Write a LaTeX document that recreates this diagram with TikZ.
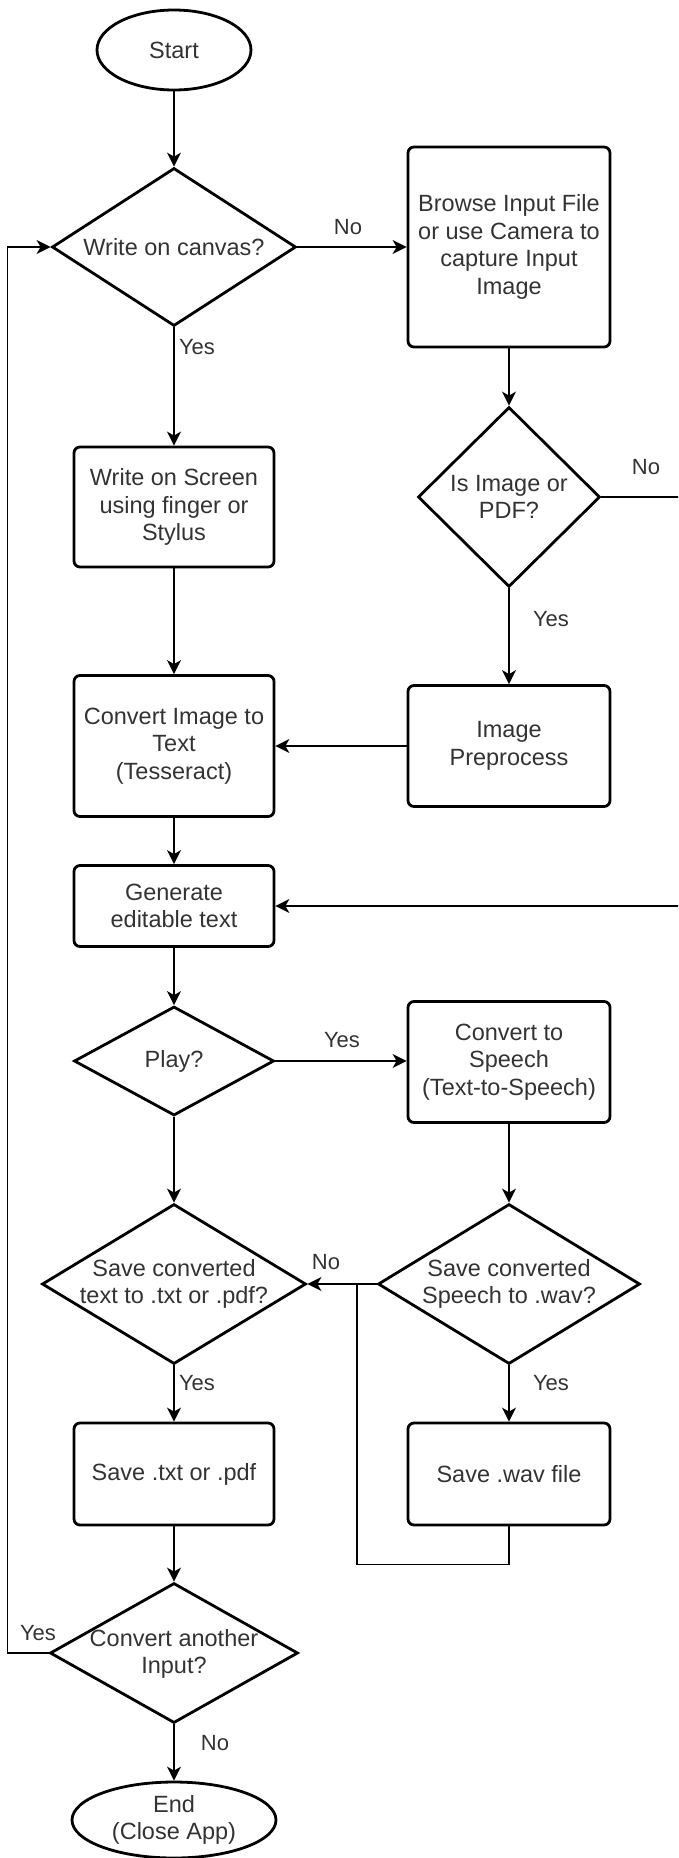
\documentclass[tikz,border=0pt]{standalone}
\usepackage{fontspec}
\setmainfont{Liberation Sans}
\usetikzlibrary{shapes.geometric,arrows.meta,calc}
\definecolor{txt}{HTML}{333333}
\begin{document}
\begin{tikzpicture}[x=1pt,y=-1pt,
  shapeline/.style={draw=black, line width=2.8pt},
  box/.style={shapeline, rectangle, rounded corners=6pt, inner sep=0pt, align=center, text=txt, font=\fontsize{23.5}{27.5}\selectfont},
  dia/.style={shapeline, diamond, inner sep=0pt},
  term/.style={shapeline, ellipse, inner sep=0pt, align=center, text=txt, font=\fontsize{23.5}{27.5}\selectfont},
  dtext/.style={align=center, text=txt, font=\fontsize{23.5}{27.5}\selectfont, inner sep=0pt},
  lbl/.style={text=txt, font=\fontsize{22}{26}\selectfont, inner sep=0pt},
  conn/.style={draw=black, line width=1.6pt, -{Stealth[length=14pt,width=14pt,inset=4pt]}},
  plainline/.style={draw=black, line width=1.6pt}
]
\useasboundingbox (0,0) rectangle (678,1858);
\clip (0,0) rectangle (678,1858);

% nodes
\node[term, minimum width=154pt, minimum height=80pt] (start) at (174,50) {Start};

\node[dia, minimum width=244pt, minimum height=158pt] (wc) at (174,247) {};
\node[dtext] (wct) at (174,247) {Write on canvas?};

\node[box, minimum width=202pt, minimum height=200pt] (browse) at (509,247) {Browse Input File\\or use Camera to\\capture Input\\Image};

\node[dia, minimum width=182pt, minimum height=180pt] (isimg) at (509,497) {};
\node[dtext] (isimgt) at (509,497) {Is Image or\\PDF?};

\node[box, minimum width=200pt, minimum height=120pt] (wos) at (174,507) {Write on Screen\\using finger or\\Stylus};

\node[box, minimum width=200pt, minimum height=141pt] (cit) at (174,746) {Convert Image to\\Text\\(Tesseract)};
\node[box, minimum width=202pt, minimum height=121pt] (prep) at (509,746) {Image\\Preprocess};

\node[box, minimum width=200pt, minimum height=81pt] (gen) at (174,906) {Generate\\editable text};

\node[dia, minimum width=200pt, minimum height=109pt] (play) at (174,1061) {};
\node[dtext] (playt) at (174,1061) {Play?};

\node[box, minimum width=202pt, minimum height=121pt] (cts) at (509,1062) {Convert to\\Speech\\(Text-to-Speech)};

\node[dia, minimum width=264pt, minimum height=160pt] (stxt) at (174,1284) {};
\node[dtext] (stxtt) at (174,1284) {Save converted\\text to .txt or .pdf?};

\node[dia, minimum width=262pt, minimum height=160pt] (swav) at (509,1284) {};
\node[dtext] (swavt) at (509,1284) {Save converted\\Speech to .wav?};

\node[box, minimum width=200pt, minimum height=102pt] (savetxt) at (174,1474) {Save .txt or .pdf};
\node[box, minimum width=202pt, minimum height=102pt] (savewav) at (509,1474) {Save .wav file};

\node[dia, minimum width=248pt, minimum height=140pt] (another) at (174,1653) {};
\node[dtext] (anothert) at (174,1654) {Convert another\\Input?};

\node[term, minimum width=204pt, minimum height=76pt] (end) at (174,1820) {End\\(Close App)};

% helper coordinates
\coordinate (j) at (357,1284);

% connectors
\draw[conn] (start) -- (wc);
\draw[conn] (wc) -- (browse);
\draw[conn] (wc) -- (wos);
\draw[conn] (browse) -- (isimg);
\draw[conn] (isimg) -- (prep);
\draw[conn] (isimg.east) -- ++(120,0) |- (gen.east);
\draw[conn] (wos) -- (cit);
\draw[conn] (prep) -- (cit);
\draw[conn] (cit) -- (gen);
\draw[conn] (gen) -- (play);
\draw[conn] (play.east) -- (play.east -| cts.west);
\draw[conn] (play) -- (stxt);
\draw[conn] (cts) -- (swav);
\draw[conn] (swav) -- (stxt);
\draw[conn] (swav) -- (savewav);
\draw[conn] (stxt) -- (savetxt);
\draw[plainline] (savewav.south) -- ++(0,38) -| (j);
\draw[conn] (savetxt) -- (another);
\draw[conn] (another) -- (end);
\draw[conn] (another.west) -- ++(-41,0) |- (wc.west);

% labels
\node[lbl] (l1) at (348,227) {No};
\node[lbl] (l2) at (197,347) {Yes};
\node[lbl] (l3) at (646,467) {No};
\node[lbl] (l4) at (551,619) {Yes};
\node[lbl] (l5) at (342,1040) {Yes};
\node[lbl] (l6) at (326,1262) {No};
\node[lbl] (l7) at (197,1383) {Yes};
\node[lbl] (l8) at (551,1383) {Yes};
\node[lbl] (l9) at (38,1633) {Yes};
\node[lbl] (l10) at (215,1743) {No};
\end{tikzpicture}
\end{document}
